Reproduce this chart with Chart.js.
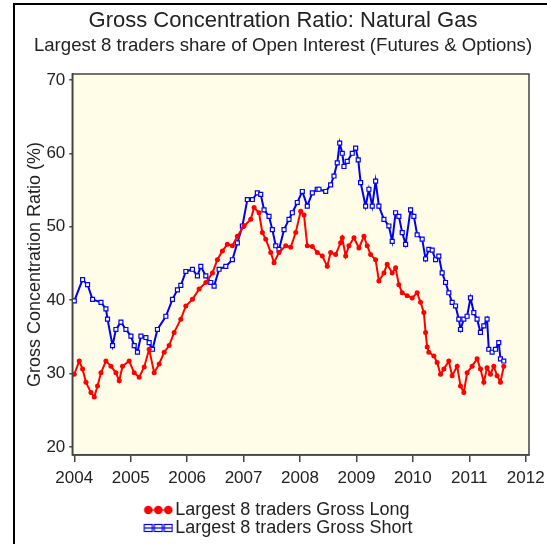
<!DOCTYPE html>
<html><head><meta charset="utf-8">
<script src="https://cdn.jsdelivr.net/npm/chart.js@4"></script>
<style>
html,body{margin:0;padding:0;background:#fff;overflow:hidden;width:547px;height:544px;}
#frame{position:absolute;left:13px;top:3px;width:540px;height:545px;border-left:2px solid #000;border-top:2px solid #000;}
#wrap{position:absolute;left:0;top:0;width:547px;height:544px;}
</style></head><body>
<div id="frame"></div>
<div id="wrap"><canvas id="c" width="547" height="544"></canvas></div>
<script>
const titleText = 'Gross Concentration Ratio: Natural Gas';
const subtitleText = 'Largest 8 traders share of Open Interest (Futures & Options)';
const yAxisTitle = 'Gross Concentration Ratio (%)';
const seriesNames = ['Largest 8 traders Gross Long', 'Largest 8 traders Gross Short'];
const xTickValues = [2004, 2005, 2006, 2007, 2008, 2009, 2010, 2011, 2012];
const yTickValues = [20, 30, 40, 50, 60, 70];

const longYears = [2004.000,2004.088,2004.147,2004.207,2004.296,2004.354,2004.412,2004.473,2004.561,2004.650,
2004.738,2004.796,2004.855,2004.973,2005.062,2005.150,2005.239,2005.327,2005.416,2005.504,
2005.593,2005.681,2005.770,2005.888,2005.977,2006.094,2006.212,2006.331,2006.448,2006.536,
2006.625,2006.713,2006.802,2006.890,2007.009,2007.127,2007.186,2007.274,2007.333,2007.393,
2007.481,2007.540,2007.628,2007.747,2007.835,2007.924,2008.012,2008.071,2008.129,2008.218,
2008.306,2008.395,2008.483,2008.543,2008.631,2008.719,2008.749,2008.809,2008.867,2008.956,
2009.044,2009.133,2009.191,2009.251,2009.340,2009.398,2009.487,2009.545,2009.634,2009.694,
2009.752,2009.811,2009.899,2009.988,2010.076,2010.136,2010.195,2010.225,2010.254,2010.283,
2010.372,2010.430,2010.490,2010.549,2010.637,2010.696,2010.785,2010.844,2010.903,2010.961,
2011.050,2011.138,2011.198,2011.257,2011.315,2011.375,2011.434,2011.493,2011.552,2011.611];
const longValues = [29.9,31.7,30.6,28.8,27.4,26.8,28.3,30.1,31.7,31.0,
30.1,29.0,31.0,31.7,30.1,29.5,30.9,33.3,30.1,31.3,
32.9,33.8,35.6,37.4,39.2,40.1,41.5,42.4,43.7,45.5,
46.7,47.6,47.4,48.7,50.1,51.0,52.6,51.9,49.2,48.3,
46.5,45.1,46.5,47.4,47.2,49.2,52.1,51.6,47.4,47.3,
46.5,46.0,44.6,46.5,46.2,47.8,48.5,46.0,47.4,48.5,
47.1,48.7,47.4,46.2,45.5,42.6,43.7,44.9,43.7,44.4,
42.1,41.0,40.6,40.3,41.0,39.7,38.3,35.6,33.6,32.9,
32.4,31.5,29.9,30.6,31.7,29.7,31.0,28.3,27.4,30.1,
31.0,32.0,30.6,28.8,30.8,29.9,31.0,29.7,28.8,31.0];

const shortYears = [2004.000,2004.147,2004.235,2004.324,2004.473,2004.561,2004.589,2004.678,2004.738,2004.827,
2004.915,2005.004,2005.062,2005.120,2005.181,2005.269,2005.327,2005.386,2005.474,2005.623,
2005.740,2005.828,2005.888,2005.977,2006.094,2006.182,2006.242,2006.331,2006.419,2006.478,
2006.566,2006.685,2006.802,2006.890,2006.979,2007.067,2007.156,2007.244,2007.304,2007.363,
2007.451,2007.510,2007.570,2007.628,2007.717,2007.805,2007.864,2007.952,2008.041,2008.129,
2008.218,2008.306,2008.336,2008.455,2008.543,2008.602,2008.660,2008.703,2008.749,2008.779,
2008.837,2008.926,2008.986,2009.032,2009.074,2009.163,2009.221,2009.280,2009.340,2009.398,
2009.487,2009.575,2009.634,2009.694,2009.752,2009.811,2009.871,2009.959,2010.018,2010.076,
2010.165,2010.225,2010.283,2010.342,2010.402,2010.460,2010.519,2010.579,2010.637,2010.696,
2010.756,2010.814,2010.844,2010.903,2010.961,2011.021,2011.080,2011.138,2011.198,2011.257,
2011.315,2011.345,2011.404,2011.464,2011.522,2011.552,2011.611];
const shortValues = [39.9,42.8,42.1,40.1,39.7,38.8,37.4,33.8,36.0,37.0,
36.0,35.1,33.8,32.9,35.1,34.9,34.2,33.3,36.0,37.8,
40.1,41.4,42.0,43.9,44.2,43.3,44.6,43.3,42.4,41.9,
44.2,44.6,45.5,47.8,50.1,53.7,53.7,54.6,54.4,52.3,
51.4,49.6,47.4,46.9,49.6,51.0,51.9,53.3,54.8,52.8,
54.6,55.1,55.1,54.8,55.7,56.9,58.7,61.4,60.0,58.2,
58.9,60.0,60.7,59.1,56.0,52.8,55.1,52.8,56.2,52.8,
51.0,50.1,48.0,51.9,51.4,49.2,47.6,52.3,51.4,48.9,
48.3,45.6,46.9,46.8,45.5,46.0,43.7,42.4,41.0,39.7,
39.2,37.4,36.0,37.4,37.8,40.3,38.3,37.4,35.6,36.5,
37.4,33.3,32.9,33.3,34.2,32.0,31.7];

const RED = '#ff0000';
const BLUE = '#0000ee';
const TXT = '#222222';
const FONT = '"Liberation Sans", Arial, sans-serif';

// legend icon canvas: transparent left part, three markers at the right end
function legendIcon(kind) {
  const c = document.createElement('canvas');
  c.width = 108; c.height = 10;
  const g = c.getContext('2d');
  const o = 78;
  g.lineWidth = 1.2;
  if (kind === 'long') {
    g.strokeStyle = RED; g.fillStyle = RED;
    g.beginPath(); g.moveTo(o + 2, 5); g.lineTo(o + 28, 5); g.stroke();
    [5, 15, 25].forEach(cx => { g.beginPath(); g.arc(o + cx, 5, 4.3, 0, Math.PI * 2); g.fill(); });
  } else {
    g.strokeStyle = BLUE;
    g.beginPath(); g.moveTo(o + 1, 5); g.lineTo(o + 29, 5); g.stroke();
    [5, 15, 25].forEach(cx => { g.strokeRect(o + cx - 4, 1.5, 8, 7); });
  }
  return c;
}
const icons = [legendIcon('long'), legendIcon('short')];

const bgPlugin = {
  id: 'plotBg',
  beforeDraw(chart) {
    const {ctx, chartArea: a} = chart;
    ctx.save();
    ctx.fillStyle = '#fffde8';
    ctx.fillRect(a.left, a.top, a.right - a.left, a.bottom - a.top);
    ctx.restore();
  },
  afterDraw(chart) {
    const {ctx, chartArea: a} = chart;
    ctx.save();
    ctx.strokeStyle = '#444';
    ctx.lineWidth = 1.5;
    ctx.strokeRect(a.left, a.top, a.right - a.left, a.bottom - a.top);
    ctx.restore();
  }
};

new Chart(document.getElementById('c'), {
  type: 'line',
  data: {
    datasets: [
      {
        label: seriesNames[0],
        data: longYears.map((x, i) => ({x: x, y: longValues[i]})),
        borderColor: RED, backgroundColor: RED,
        borderWidth: 2, pointStyle: 'circle', pointRadius: 2.5,
        pointBorderWidth: 0, pointBackgroundColor: RED, tension: 0
      },
      {
        label: seriesNames[1],
        data: shortYears.map((x, i) => ({x: x, y: shortValues[i]})),
        borderColor: BLUE, backgroundColor: BLUE,
        borderWidth: 2, pointStyle: 'rect', pointRadius: 2.8,
        pointBorderWidth: 1.2, pointBorderColor: BLUE, pointBackgroundColor: '#ffffff', tension: 0
      }
    ]
  },
  options: {
    responsive: false,
    animation: false,
    devicePixelRatio: 1,
    layout: {padding: {left: 20, right: 1, top: 0, bottom: -3}},
    plugins: {
      tooltip: {enabled: false},
      title: {display: true, text: titleText, color: TXT,
        font: {family: FONT, size: 22, weight: 'normal'}, padding: {top: 7.8, bottom: 0}},
      subtitle: {display: true, text: subtitleText, color: TXT,
        font: {family: FONT, size: 18.6, weight: 'normal'}, padding: {top: 0.14, bottom: 17.34}},
      legend: {
        display: true, position: 'bottom', fullSize: false, align: 'start',
        labels: {
          usePointStyle: true, pointStyleWidth: 94, padding: 0, color: TXT,
          font: {family: FONT, size: 18},
          generateLabels(chart) {
            const items = Chart.defaults.plugins.legend.labels.generateLabels(chart);
            items.forEach((it, i) => { it.pointStyle = icons[i]; });
            return items;
          }
        }
      }
    },
    scales: {
      x: {
        type: 'linear', position: 'bottom', min: 2003.965, max: 2012.058,
        afterBuildTicks(s) { s.ticks = xTickValues.map(v => ({value: v})); },
        afterFit(s) { s.height = 46; s.paddingRight = 18; },
        ticks: {autoSkip: false, maxRotation: 0, padding: 6, color: TXT,
          font: {family: FONT, size: 17}, callback: v => String(v)},
        grid: {drawOnChartArea: false, drawTicks: true, tickLength: 7, color: '#444', lineWidth: 1.5},
        border: {display: true, color: '#444', width: 1.5}
      },
      y: {
        type: 'linear', position: 'left', min: 18.9, max: 70.8,
        afterBuildTicks(s) { s.ticks = yTickValues.map(v => ({value: v})); },
        afterFit(s) { s.width = 52.3; },
        ticks: {autoSkip: false, padding: 4, color: TXT,
          font: {family: FONT, size: 17}, callback: v => String(v)},
        grid: {drawOnChartArea: false, drawTicks: true, tickLength: 3, color: '#444', lineWidth: 1.5},
        border: {display: true, color: '#444', width: 1.5},
        title: {display: true, text: yAxisTitle, color: TXT,
          font: {family: FONT, size: 18}, padding: {top: 4.2, bottom: 0}}
      }
    }
  },
  plugins: [bgPlugin]
});
</script>
</body></html>
